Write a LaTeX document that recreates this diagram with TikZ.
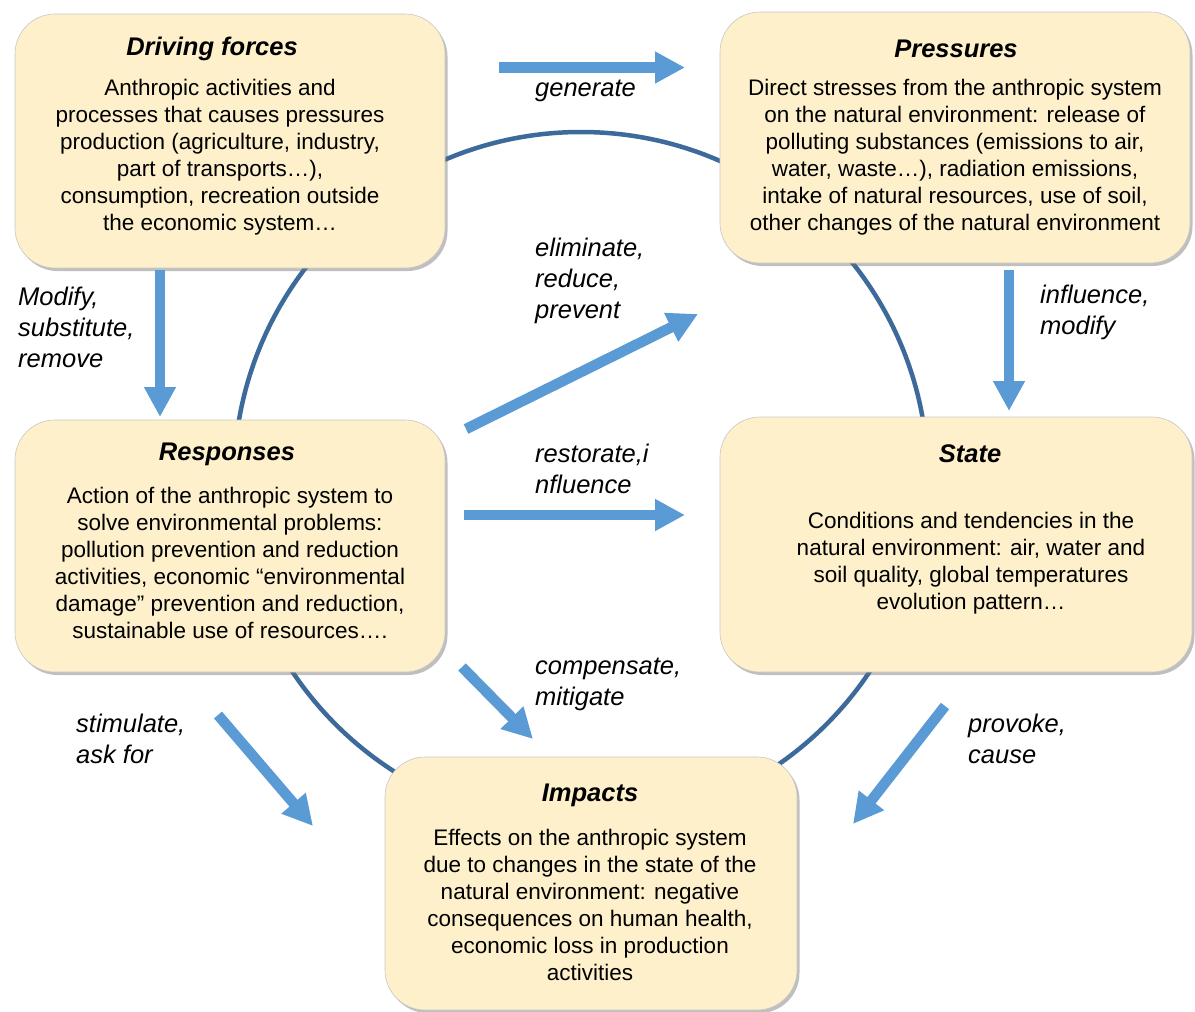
\documentclass[tikz,border=0pt]{standalone}
\usepackage{fontspec}
\setmainfont{Liberation Sans}
\usetikzlibrary{arrows.meta,shadows}
\definecolor{boxfill}{RGB}{253,240,203}
\definecolor{ringblue}{RGB}{60,106,155}
\definecolor{arrblue}{RGB}{91,155,213}
\begin{document}
\begin{tikzpicture}[x=1pt,y=-1pt,
  box/.style={rounded corners=40pt, fill=boxfill, draw=black!22, line width=0.6pt,
    drop shadow={shadow xshift=2.5pt, shadow yshift=-3pt, opacity=0.45, fill=black!55},
    inner sep=0pt},
  ttl/.style={font=\fontsize{25.5}{30}\selectfont\bfseries\itshape, inner sep=0pt},
  bodytxt/.style={font=\fontsize{22.5}{27}\selectfont, align=center, inner sep=0pt},
  lbl/.style={font=\fontsize{25.5}{31}\selectfont\itshape, align=left, anchor=west, inner sep=0pt},
  bigarrow/.style={draw=arrblue, line width=10.5pt, -{Triangle[width=30pt,length=30pt]}}
]
\useasboundingbox (0,0) rectangle (1195,1012);
\fill[white] (0,0) rectangle (1195,1012);

% ring
\node[draw=ringblue, line width=4.5pt, circle, minimum size=694pt, inner sep=0pt] (ring) at (581,479) {};

% boxes
\node[box, minimum width=430pt, minimum height=254pt] (drv) at (230,141) {};
\node[box, minimum width=470pt, minimum height=251pt] (prs) at (955,137.5) {};
\node[box, minimum width=430pt, minimum height=252pt] (rsp) at (230,546) {};
\node[box, minimum width=472pt, minimum height=255pt] (sta) at (956,544.5) {};
\node[box, minimum width=412pt, minimum height=253pt] (imp) at (591,883.5) {};

% titles
\node[ttl] (drvT) at (212,48.5) {Driving forces};
\node[ttl] (prsT) at (956,48.5) {Pressures};
\node[ttl] (rspT) at (227,454.5) {Responses};
\node[ttl] (staT) at (970,454) {State};
\node[ttl] (impT) at (590,795) {Impacts};

% bodies
\node[bodytxt] (drvB) at (220,157.5) {Anthropic activities and\\processes that causes pressures\\production (agriculture, industry,\\part of transports…),\\consumption, recreation outside\\the economic system…};
\node[bodytxt] (prsB) at (955,157.5) {Direct stresses from the anthropic system\\on the natural environment: release of\\polluting substances (emissions to air,\\water, waste…), radiation emissions,\\intake of natural resources, use of soil,\\other changes of the natural environment};
\node[bodytxt] (rspB) at (230,563) {Action of the anthropic system to\\solve environmental problems:\\pollution prevention and reduction\\activities, economic “environmental\\damage” prevention and reduction,\\sustainable use of resources….};
\node[bodytxt] (staB) at (971,563) {Conditions and tendencies in the\\natural environment: air, water and\\soil quality, global temperatures\\evolution pattern…};
\node[bodytxt] (impB) at (590,905) {Effects on the anthropic system\\due to changes in the state of the\\natural environment: negative\\consequences on human health,\\economic loss in production\\activities};

% arrow end points
\coordinate (a1s) at (499,67.5);  \coordinate (a1e) at (685,67.5);
\coordinate (a2s) at (160,270);   \coordinate (a2e) at (160,417);
\coordinate (a3s) at (1009,270);  \coordinate (a3e) at (1009,411);
\coordinate (a4s) at (466,429);   \coordinate (a4e) at (698,314);
\coordinate (a5s) at (464,515);   \coordinate (a5e) at (685,515);
\coordinate (a6s) at (462,667);   \coordinate (a6e) at (533,739);
\coordinate (a7s) at (218,715);   \coordinate (a7e) at (313,826);
\coordinate (a8s) at (945,706);   \coordinate (a8e) at (853,824);

\draw[bigarrow] (a1s) -- (a1e);
\draw[bigarrow] (a2s) -- (a2e);
\draw[bigarrow] (a3s) -- (a3e);
\draw[bigarrow] (a4s) -- (a4e);
\draw[bigarrow] (a5s) -- (a5e);
\draw[bigarrow] (a6s) -- (a6e);
\draw[bigarrow] (a7s) -- (a7e);
\draw[bigarrow] (a8s) -- (a8e);

% labels
\node[lbl] (l1) at (535,90.5) {generate};
\node[lbl] (l2) at (535,281) {eliminate,\\reduce,\\prevent};
\node[lbl] (l3) at (18,327) {Modify,\\substitute,\\remove};
\node[lbl] (l4) at (1040,312) {influence,\\modify};
\node[lbl] (l5) at (535,469) {restorate,i\\nfluence};
\node[lbl] (l6) at (535,684) {compensate,\\mitigate};
\node[lbl] (l7) at (76,739) {stimulate,\\ask for};
\node[lbl] (l8) at (968,739) {provoke,\\cause};
\end{tikzpicture}
\end{document}
